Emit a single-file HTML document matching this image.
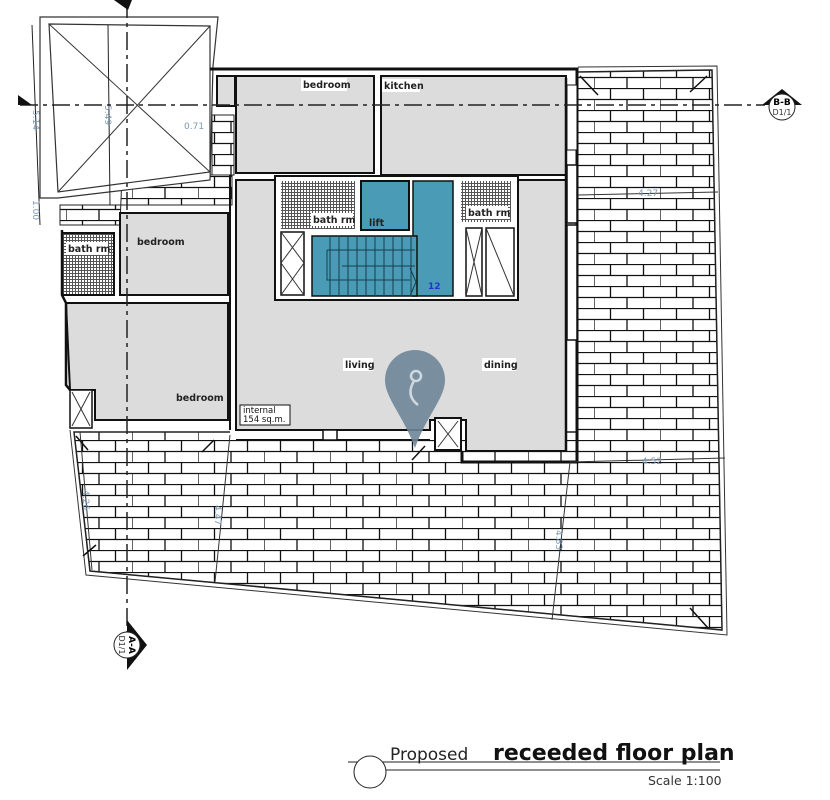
<!DOCTYPE html>
<html><head><meta charset="utf-8"><style>
html,body{margin:0;padding:0;background:#fff;}
svg{display:block;}
text{font-family:"DejaVu Sans","Liberation Sans",sans-serif;}
</style></head><body>
<svg width="830" height="800" viewBox="0 0 830 800" xmlns="http://www.w3.org/2000/svg">
<defs>
<pattern id="brick" x="0" y="0" width="66" height="22" patternUnits="userSpaceOnUse">
<rect width="66" height="22" fill="#fff"/>
<path d="M0 0.5H66M0 11.5H66M16.5 0V11M49.5 0V11M0 11V22M33 11V22" stroke="#111" stroke-width="1.3" fill="none"/>
</pattern>
<pattern id="hatch" width="3" height="3" patternUnits="userSpaceOnUse">
<rect width="3" height="3" fill="#fff"/>
<path d="M0 0.5H3M0.5 0V3" stroke="#555" stroke-width="1"/>
</pattern>
</defs>

<!-- paving terrace -->
<polygon points="577,72 712,70 722,630 90,571 74,432 577,432" fill="url(#brick)" stroke="#222" stroke-width="1.5"/>
<polyline points="582,72 712,70 722,630 90,571 74,432" fill="none" stroke="#222" stroke-width="1"/>
<polyline points="578,67 717,66 727,635 86,575 70,430" fill="none" stroke="#333" stroke-width="1"/>
<!-- left top paving -->
<polygon points="122,175 232,175 232,205 60,205 60,225 120,225" fill="url(#brick)" stroke="#222"/>
<rect x="212" y="115" width="22" height="60" fill="url(#brick)" stroke="#222"/>

<!-- top-left crossed void -->
<polygon points="40,17 218,17 213,66 210,180 58,198 40,198" fill="#fff" stroke="#333" stroke-width="1.2"/>
<polygon points="49,24 210,26 210,172 58,192" fill="#fff" stroke="#333" stroke-width="1.2"/>
<line x1="49" y1="24" x2="210" y2="172" stroke="#333"/>
<line x1="210" y1="26" x2="58" y2="192" stroke="#333"/>
<!-- left dims -->
<line x1="32" y1="25" x2="40" y2="225" stroke="#222"/>
<line x1="108" y1="25" x2="110" y2="205" stroke="#222"/>
<text x="33" y="110" font-size="9" fill="#7a9ab8" transform="rotate(90 33 110)">5.14</text>
<text x="105" y="105" font-size="9" fill="#7a9ab8" transform="rotate(90 105 105)">5.49</text>
<text x="33" y="200" font-size="9" fill="#7a9ab8" transform="rotate(90 33 200)">1.00</text>
<text x="184" y="129" font-size="9" fill="#7a9ab8">0.71</text>

<!-- building walls -->
<rect x="230" y="428" width="236" height="12" fill="#fff"/>
<path d="M210 69H577V462H462V452" fill="none" stroke="#111" stroke-width="3"/>
<line x1="236" y1="440" x2="430" y2="440" stroke="#111" stroke-width="2"/>
<!-- gray rooms -->
<rect x="217" y="76" width="18" height="30" fill="#ddd" stroke="#111" stroke-width="2"/>
<rect x="236" y="76" width="138" height="97" fill="#dcdcdc" stroke="#111" stroke-width="2"/>
<rect x="381" y="76" width="185" height="99" fill="#dcdcdc" stroke="#111" stroke-width="2"/>
<polygon points="236,180 566,180 566,451 466,451 466,420 430,420 430,430 236,430" fill="#dcdcdc" stroke="#111" stroke-width="2"/>
<line x1="566" y1="78" x2="566" y2="451" stroke="#111" stroke-width="2.5"/>
<rect x="567" y="165" width="10" height="58" fill="#fff" stroke="#111" stroke-width="1.5"/>
<rect x="567" y="225" width="10" height="115" fill="#fff" stroke="#111" stroke-width="1.5"/>
<rect x="567" y="85" width="10" height="65" fill="#fff" stroke="#111" stroke-width="1"/>
<rect x="120" y="213" width="108" height="82" fill="#dcdcdc" stroke="#111" stroke-width="2"/>
<rect x="62" y="233" width="52" height="62" fill="url(#hatch)" stroke="#111" stroke-width="2"/>
<polygon points="66,303 228,303 228,420 95,420 95,390 70,390" fill="#dcdcdc" stroke="#111" stroke-width="2"/>
<polyline points="62,230 62,295 66,303 66,385 70,390" fill="none" stroke="#111" stroke-width="2.5"/>
<line x1="230" y1="175" x2="230" y2="430" stroke="#111" stroke-width="2"/>
<rect x="70" y="390" width="22" height="38" fill="#fff" stroke="#111" stroke-width="1.5"/>
<line x1="72" y1="392" x2="90" y2="426" stroke="#333"/><line x1="90" y1="392" x2="72" y2="426" stroke="#333"/>

<!-- core -->
<rect x="275" y="176" width="243" height="124" fill="#fff" stroke="#111" stroke-width="2"/>
<rect x="281" y="181" width="74" height="48" fill="url(#hatch)"/>
<rect x="461" y="181" width="50" height="41" fill="url(#hatch)"/>
<rect x="361" y="181" width="48" height="49" fill="#4a9bb5" stroke="#111" stroke-width="2"/>
<rect x="413" y="181" width="40" height="115" fill="#4a9bb5" stroke="#111" stroke-width="1.5"/>
<rect x="312" y="236" width="105" height="60" fill="#4a9bb5" stroke="#111" stroke-width="1.5"/>
<g stroke="#1a3d4d" stroke-width="1" fill="none">
<path d="M330 236V296M339 236V296M348 236V296M357 236V296M366 236V296M375 236V296M384 236V296M393 236V296M402 236V296M411 236V296"/>
<path d="M327 250H415M327 250V280H410M342 266H415M410 268L416 282L410 296"/>
</g>
<rect x="281" y="232" width="23" height="63" fill="#fff" stroke="#111" stroke-width="1.5"/>
<path d="M281 232L304 263M304 232L281 263M281 263L304 295M304 263L281 295" stroke="#333"/>
<rect x="466" y="228" width="16" height="68" fill="#fff" stroke="#111" stroke-width="1.5"/>
<rect x="486" y="228" width="28" height="68" fill="#fff" stroke="#111" stroke-width="1.5"/>
<path d="M466 228L482 296M482 228L466 296M486 228L514 296" stroke="#333"/>
<text x="428" y="289" font-size="9" fill="#2233cc" font-weight="bold">12</text>

<!-- lift box bottom -->
<rect x="435" y="418" width="26" height="32" fill="#fff" stroke="#111" stroke-width="2"/>
<path d="M438 421L458 447M458 421L438 447" stroke="#333"/>
<rect x="323" y="430" width="14" height="10" fill="#fff" stroke="#111" stroke-width="1.5"/>
<!-- internal label -->
<rect x="240" y="405" width="50" height="20" fill="#fff" stroke="#111"/>
<text x="243" y="413" font-size="8.5" fill="#111">internal</text>
<text x="243" y="422" font-size="8.5" fill="#111">154 sq.m.</text>

<!-- section lines -->
<line x1="20" y1="105" x2="765" y2="105" stroke="#222" stroke-width="1.5" stroke-dasharray="18,5,4,5"/>
<line x1="127" y1="0" x2="127" y2="640" stroke="#222" stroke-width="1.5" stroke-dasharray="18,5,4,5"/>
<path d="M18 95L32 105L18 105Z" fill="#111"/>
<path d="M762 105L782 89L802 105Z" fill="#111"/>
<circle cx="782" cy="107" r="13" fill="#fff" stroke="#222"/>
<text x="782" y="105" font-size="9" font-weight="bold" text-anchor="middle">B-B</text>
<text x="782" y="115" font-size="8" text-anchor="middle" fill="#333">D1/1</text>
<path d="M127 620L147 645L127 670Z" fill="#111"/>
<circle cx="127" cy="645" r="13" fill="#fff" stroke="#222"/>
<g transform="rotate(90 127 645)">
<text x="127" y="643" font-size="9" font-weight="bold" text-anchor="middle">A-A</text>
<text x="127" y="653" font-size="8" text-anchor="middle" fill="#333">D1/1</text></g>
<path d="M114 0L132 0L128 10Z" fill="#111"/>

<!-- dims -->
<line x1="578" y1="195" x2="718" y2="192" stroke="#333"/>
<text x="638" y="196" font-size="9" fill="#7a9ab8">4.27</text>
<line x1="570" y1="462" x2="725" y2="458" stroke="#333"/>
<text x="642" y="464" font-size="9" fill="#7a9ab8">4.52</text>
<line x1="570" y1="462" x2="552" y2="620" stroke="#333"/>
<line x1="80" y1="432" x2="92" y2="570" stroke="#333"/>
<line x1="230" y1="435" x2="215" y2="582" stroke="#333"/>
<text x="83" y="490" font-size="9" fill="#7a9ab8" transform="rotate(90 83 490)">4.26</text>
<text x="215" y="505" font-size="9" fill="#7a9ab8" transform="rotate(90 215 505)">4.47</text>
<text x="556" y="530" font-size="9" fill="#7a9ab8" transform="rotate(90 556 530)">4.83</text>
<path d="M76 436L88 450M202 452L214 440M412 460L425 446M580 76L598 95M707 76L690 92M690 608L708 628M83 556L96 545" stroke="#111" stroke-width="1.5"/>

<!-- labels -->
<g font-size="9.5" font-weight="bold" fill="#222">
<rect x="301" y="78" width="46" height="13" fill="#fff"/><text x="303" y="88">bedroom</text>
<rect x="382" y="79" width="38" height="13" fill="#fff"/><text x="384" y="89">kitchen</text>
<rect x="311" y="213" width="42" height="13" fill="#fff"/><text x="313" y="223">bath rm</text>
<text x="369" y="226">lift</text>
<rect x="466" y="206" width="42" height="13" fill="#fff"/><text x="468" y="216">bath rm</text>
<rect x="66" y="242" width="42" height="13" fill="#fff"/><text x="68" y="252">bath rm</text>
<text x="137" y="245">bedroom</text>
<text x="176" y="401">bedroom</text>
<rect x="343" y="358" width="30" height="13" fill="#fff"/><text x="345" y="368">living</text>
<rect x="482" y="358" width="34" height="13" fill="#fff"/><text x="484" y="368">dining</text>
</g>

<!-- pin -->
<path d="M415 350 a30 30 0 0 1 30 30 c0 18 -18 35 -30 68 c-12 -33 -30 -50 -30 -68 a30 30 0 0 1 30 -30Z" fill="#6e8699" opacity="0.9"/>
<circle cx="416" cy="376" r="5" fill="none" stroke="#cfd8df" stroke-width="2.5"/>
<path d="M414 381 c-6 10 -4 18 4 24" fill="none" stroke="#cfd8df" stroke-width="2.5"/>

<!-- title -->
<line x1="348" y1="762" x2="720" y2="762" stroke="#222"/>
<line x1="386" y1="770" x2="720" y2="770" stroke="#222"/>
<circle cx="370" cy="772" r="16" fill="#fff" stroke="#222"/>
<text x="390" y="760" font-size="17" fill="#222">Proposed</text>
<text x="493" y="760" font-size="22" font-weight="bold" fill="#111">receeded floor plan</text>
<text x="648" y="785" font-size="12.5" fill="#333">Scale 1:100</text>
</svg>
</body></html>
